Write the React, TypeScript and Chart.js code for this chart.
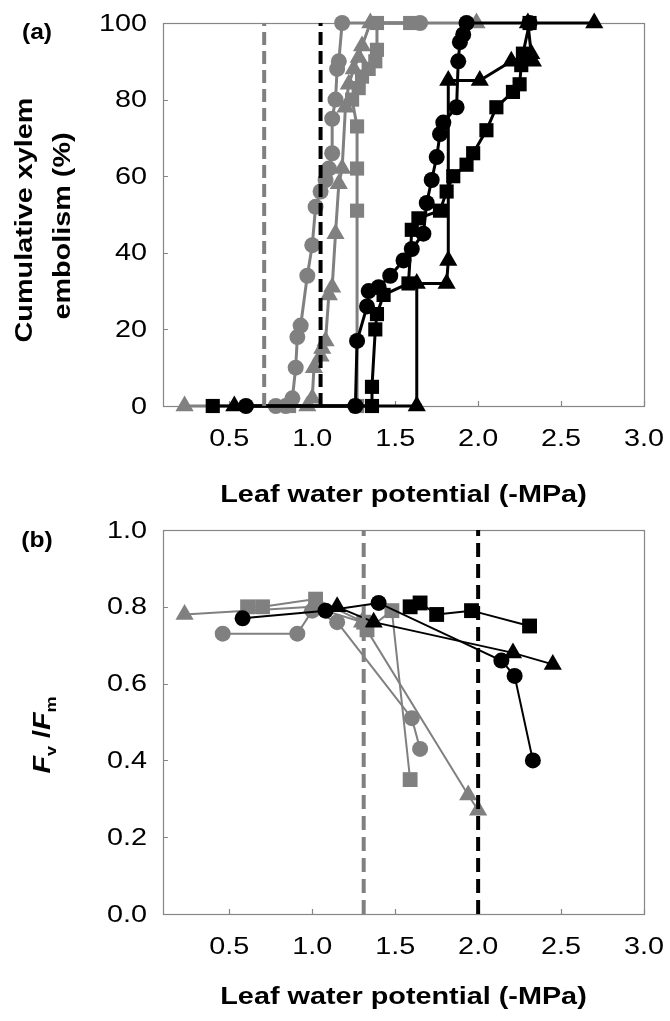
import React, { useEffect, useRef } from "react";
import { Chart, registerables } from "chart.js";

Chart.register(...registerables);

type P = [number, number];

// ---------- axes ----------
const xMin = 0.1;
const xMax = 3.0;
const xTickValues = [0.5, 1.0, 1.5, 2.0, 2.5, 3.0];
const xTickLabels = ["0.5", "1.0", "1.5", "2.0", "2.5", "3.0"];
const yTickValuesA = [0, 20, 40, 60, 80, 100];
const yTickLabelsA = ["0", "20", "40", "60", "80", "100"];
const yTickValuesB = [0, 0.2, 0.4, 0.6, 0.8, 1.0];
const yTickLabelsB = ["0.0", "0.2", "0.4", "0.6", "0.8", "1.0"];

// ---------- thresholds (dashed lines) ----------
const aGrayThreshold = 0.71;
const aBlackThreshold = 1.05;
const bGrayThreshold = 1.31;
const bBlackThreshold = 2.0;

// ---------- panel (a): cumulative xylem embolism (%) ----------
const aGrayCircle: P[] = [
  [0.78, 0], [0.84, 0], [0.88, 2], [0.9, 10], [0.91, 18], [0.93, 21], [0.97, 34], [1.0, 42],
  [1.02, 52], [1.05, 56], [1.08, 59], [1.1, 62], [1.12, 66], [1.12, 75], [1.14, 80], [1.15, 88],
  [1.16, 90], [1.18, 100], [1.65, 100],
];
const aGraySquare: P[] = [
  [0.86, 0], [1.27, 0], [1.27, 51], [1.27, 62], [1.27, 73], [1.24, 80], [1.28, 83], [1.3, 86],
  [1.34, 88], [1.38, 90], [1.39, 93], [1.39, 100], [1.59, 100],
];
const aGrayTriangle: P[] = [
  [0.23, 0], [0.97, 0], [1.0, 2], [1.01, 10], [1.05, 13], [1.06, 15], [1.08, 17], [1.1, 29],
  [1.12, 31], [1.14, 45], [1.16, 58], [1.18, 62], [1.2, 78], [1.22, 84], [1.25, 88], [1.28, 91],
  [1.3, 94], [1.35, 100], [1.99, 100],
];
const aBlackCircle: P[] = [
  [0.6, 0], [1.26, 0], [1.27, 17], [1.33, 26], [1.34, 30], [1.4, 31], [1.47, 34], [1.55, 38],
  [1.6, 41], [1.67, 45], [1.69, 53], [1.72, 59], [1.75, 65], [1.77, 71], [1.79, 74], [1.87, 78],
  [1.88, 90], [1.89, 95], [1.91, 97], [1.93, 100], [2.31, 100],
];
const aBlackSquare: P[] = [
  [0.4, 0], [1.36, 0], [1.36, 5], [1.38, 20], [1.39, 24], [1.43, 29], [1.58, 32], [1.6, 46],
  [1.64, 49], [1.77, 51], [1.81, 56], [1.85, 60], [1.93, 63], [1.97, 66], [2.05, 72], [2.11, 78],
  [2.21, 82], [2.25, 84], [2.26, 89], [2.27, 92], [2.31, 100],
];
const aBlackTriangle: P[] = [
  [0.53, 0], [1.63, 0], [1.63, 32], [1.81, 32], [1.82, 38], [1.82, 85], [2.01, 85], [2.2, 90],
  [2.33, 90], [2.32, 92], [2.3, 100], [2.7, 100],
];

// ---------- panel (b): Fv/Fm ----------
const bGrayTriangle: P[] = [[0.23, 0.78], [1.0, 0.8], [1.3, 0.76], [1.94, 0.31], [2.0, 0.27]];
const bGraySquare: P[] = [
  [0.61, 0.8], [0.7, 0.8], [1.02, 0.82], [1.31, 0.76], [1.33, 0.74], [1.48, 0.79], [1.59, 0.35],
];
const bGrayCircle: P[] = [[0.46, 0.73], [0.91, 0.73], [1.0, 0.79], [1.15, 0.76], [1.6, 0.51], [1.65, 0.43]];
const bBlackCircle: P[] = [[0.58, 0.77], [1.08, 0.79], [1.4, 0.81], [2.14, 0.66], [2.22, 0.62], [2.33, 0.4]];
const bBlackTriangle: P[] = [[1.15, 0.8], [1.37, 0.76], [2.21, 0.68], [2.45, 0.65]];
const bBlackSquare: P[] = [[1.59, 0.8], [1.65, 0.81], [1.75, 0.78], [1.96, 0.79], [2.31, 0.75]];

// ---------- styling ----------
const GRAY = "#808080";
const BLACK = "#000000";
const AXIS = "#868686";
const FONT = '"Liberation Sans", Arial, sans-serif';
const SX = 1.2;

function series(points: P[], color: string, style: string, radius: number, lw: number) {
  return {
    data: points.map(([x, y]) => ({ x, y })),
    showLine: true,
    borderColor: color,
    backgroundColor: color,
    borderWidth: lw,
    pointStyle: style,
    pointRadius: radius,
    pointHoverRadius: radius,
    pointBackgroundColor: color,
    pointBorderColor: color,
    pointBorderWidth: 0,
    clip: false,
    tension: 0,
  };
}

function vline(x: number, y0: number, y1: number, color: string, dash: number[]) {
  return {
    data: [{ x, y: y0 }, { x, y: y1 }],
    showLine: true,
    borderColor: color,
    borderWidth: 4,
    borderDash: dash,
    borderCapStyle: "butt",
    pointRadius: 0,
    pointHoverRadius: 0,
    clip: false,
  };
}

function text(
  ctx: CanvasRenderingContext2D,
  s: string,
  x: number,
  y: number,
  font: string,
  align: CanvasTextAlign,
  baseline: CanvasTextBaseline,
  rotate = 0,
  sx = SX
) {
  ctx.save();
  ctx.translate(x, y);
  if (rotate) ctx.rotate(rotate);
  ctx.scale(sx, 1);
  ctx.font = font;
  ctx.textAlign = align;
  ctx.textBaseline = baseline;
  ctx.fillStyle = "#000";
  ctx.fillText(s, 0, 0);
  ctx.restore();
}

type DecorCfg = {
  yTicks: number[];
  yLabels: string[];
  panelLabel: string;
  panelLabelPos: [number, number];
  xTitleBaselineOffset: number;
  drawYTitle: (ctx: CanvasRenderingContext2D, area: any) => void;
};

function decor(cfg: DecorCfg) {
  return {
    id: "decor",
    beforeDatasetsDraw(chart: any) {
      const { ctx, chartArea: a, scales } = chart;
      ctx.save();
      ctx.strokeStyle = AXIS;
      ctx.lineWidth = 1.2;
      ctx.strokeRect(a.left + 0.5, a.top + 0.5, a.right - a.left, a.bottom - a.top);
      ctx.beginPath();
      xTickValues.forEach((v) => {
        const px = Math.round(scales.x.getPixelForValue(v)) + 0.5;
        ctx.moveTo(px, a.bottom);
        ctx.lineTo(px, a.bottom - 5);
      });
      cfg.yTicks.forEach((v) => {
        const py = Math.round(scales.y.getPixelForValue(v)) + 0.5;
        ctx.moveTo(a.left, py);
        ctx.lineTo(a.left + 5, py);
      });
      ctx.stroke();
      ctx.restore();
    },
    afterDraw(chart: any) {
      const { ctx, chartArea: a, scales } = chart;
      const tickFont = `24px ${FONT}`;
      xTickValues.forEach((v, i) => {
        text(ctx, xTickLabels[i], scales.x.getPixelForValue(v), a.bottom + 33, tickFont, "center", "middle");
      });
      cfg.yTicks.forEach((v, i) => {
        text(ctx, cfg.yLabels[i], a.left - 16, scales.y.getPixelForValue(v) + 1, tickFont, "right", "middle");
      });
      const cx = (a.left + a.right) / 2;
      text(ctx, "Leaf water potential (-MPa)", cx, a.bottom + cfg.xTitleBaselineOffset, `bold 24px ${FONT}`, "center", "alphabetic");
      text(ctx, cfg.panelLabel, cfg.panelLabelPos[0], cfg.panelLabelPos[1], `bold 22px ${FONT}`, "center", "alphabetic", 0, 1.12);
      cfg.drawYTitle(ctx, a);
    },
  };
}

function baseOptions(yMin: number, yMax: number, padding: any) {
  return {
    animation: false,
    responsive: false,
    devicePixelRatio: 1,
    events: [],
    layout: { padding },
    plugins: { legend: { display: false }, tooltip: { enabled: false } },
    scales: {
      x: { type: "linear", min: xMin, max: xMax, display: false },
      y: { type: "linear", min: yMin, max: yMax, display: false },
    },
  };
}

const CANVAS_A_H = 521;

function configA(): any {
  return {
    type: "scatter",
    data: {
      datasets: [
        vline(aBlackThreshold, 0, 100, BLACK, [13, 6]),
        vline(aGrayThreshold, 0, 100, GRAY, [13, 6]),
        series(aBlackTriangle, BLACK, "triangle", 10.5, 3),
        series(aBlackSquare, BLACK, "rect", 10, 3),
        series(aBlackCircle, BLACK, "circle", 8, 3),
        series(aGrayTriangle, GRAY, "triangle", 10.5, 3),
        series(aGraySquare, GRAY, "rect", 10, 3),
        series(aGrayCircle, GRAY, "circle", 8, 3),
      ],
    },
    options: baseOptions(0, 100, { left: 163, right: 26, top: 23, bottom: CANVAS_A_H - 406 }),
    plugins: [
      decor({
        yTicks: yTickValuesA,
        yLabels: yTickLabelsA,
        panelLabel: "(a)",
        panelLabelPos: [37, 39],
        xTitleBaselineOffset: 96,
        drawYTitle: (ctx) => {
          const f = `bold 24px ${FONT}`;
          text(ctx, "Cumulative xylem", 32, 220, f, "center", "alphabetic", -Math.PI / 2);
          text(ctx, "embolism (%)", 70, 226, f, "center", "alphabetic", -Math.PI / 2);
        },
      }),
    ],
  };
}

function configB(): any {
  return {
    type: "scatter",
    data: {
      datasets: [
        vline(bBlackThreshold, 0, 1, BLACK, [14, 7]),
        vline(bGrayThreshold, 0, 1, GRAY, [14, 7]),
        series(bBlackTriangle, BLACK, "triangle", 10.5, 2),
        series(bBlackSquare, BLACK, "rect", 10.5, 2),
        series(bBlackCircle, BLACK, "circle", 8, 2),
        series(bGrayTriangle, GRAY, "triangle", 10.5, 2),
        series(bGraySquare, GRAY, "rect", 10.5, 2),
        series(bGrayCircle, GRAY, "circle", 8, 2),
      ],
    },
    options: baseOptions(0, 1, { left: 163, right: 26, top: 30, bottom: 107 }),
    plugins: [
      decor({
        yTicks: yTickValuesB,
        yLabels: yTickLabelsB,
        panelLabel: "(b)",
        panelLabelPos: [37, 47],
        xTitleBaselineOffset: 90,
        drawYTitle: (ctx) => {
          // F_v /F_m, rotated, composed from parts
          const big = `italic bold 24px ${FONT}`;
          const slash = `bold 24px ${FONT}`;
          const sub = `bold 15px ${FONT}`;
          const parts: [string, string, number][] = [
            ["F", big, 0],
            ["v", sub, 6],
            [" /", slash, 0],
            ["F", big, 0],
            ["m", sub, 6],
          ];
          ctx.save();
          let total = 0;
          const widths = parts.map(([s, f]) => {
            ctx.font = f;
            const w = ctx.measureText(s).width * SX;
            total += w;
            return w;
          });
          ctx.translate(50, 235);
          ctx.rotate(-Math.PI / 2);
          let x = -total / 2;
          parts.forEach(([s, f, dy], i) => {
            ctx.save();
            ctx.translate(x, dy);
            ctx.scale(SX, 1);
            ctx.font = f;
            ctx.textAlign = "left";
            ctx.textBaseline = "alphabetic";
            ctx.fillStyle = "#000";
            ctx.fillText(s, 0, 0);
            ctx.restore();
            x += widths[i];
          });
          ctx.restore();
        },
      }),
    ],
  };
}

function Panel({ make, top, height }: { make: () => any; top: number; height: number }) {
  const ref = useRef<HTMLCanvasElement>(null);
  useEffect(() => {
    const chart = new Chart(ref.current as HTMLCanvasElement, make());
    return () => chart.destroy();
  }, []);
  return (
    <canvas
      ref={ref}
      width={670}
      height={height}
      style={{ position: "absolute", left: 0, top, width: 670, height }}
    />
  );
}

export default function App() {
  return (
    <div style={{ position: "absolute", left: 0, top: 0, width: 670, height: 1021, background: "#fff" }}>
      <Panel make={configA} top={0} height={CANVAS_A_H} />
      <Panel make={configB} top={500} height={521} />
    </div>
  );
}
